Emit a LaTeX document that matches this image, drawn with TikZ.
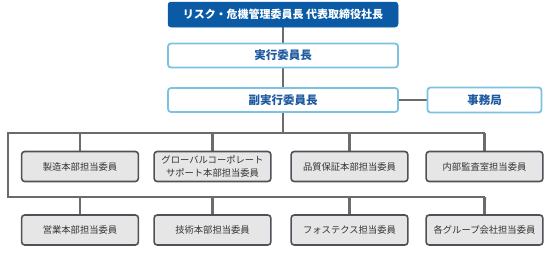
\documentclass[tikz,border=0pt]{standalone}
\usepackage{fontspec}
\setmainfont{Noto Sans CJK JP}
\usetikzlibrary{backgrounds}
\definecolor{topblue}{HTML}{0B5AA6}
\definecolor{lblue}{HTML}{7CC3E2}
\definecolor{tblue}{HTML}{1E5AA0}
\definecolor{boxgray}{HTML}{E6E6E6}
\definecolor{bordgray}{HTML}{4D5258}
\definecolor{linegray}{HTML}{6B6B6B}
\definecolor{txtgray}{HTML}{333333}
\begin{document}
\begin{tikzpicture}[x=1pt,y=-1pt,
  topbox/.style={draw=topblue,fill=topblue,rounded corners=3pt,text=white,font=\fontsize{11}{13}\selectfont\bfseries,line width=0.5pt},
  bluebox/.style={draw=lblue,fill=white,rounded corners=3pt,text=tblue,font=\fontsize{11.5}{13}\selectfont\bfseries,line width=1.8pt},
  graybox/.style={draw=bordgray,fill=boxgray,rounded corners=3pt,text=txtgray,font=\fontsize{9.3}{12.5}\selectfont,line width=1.6pt,align=center},
  conn/.style={draw=linegray,line width=2.2pt}]
\useasboundingbox (0,0) rectangle (554,252);
\coordinate (TL) at (8,133);
\coordinate (TR) at (485,133);
\coordinate (BL) at (8,197);
\coordinate (BR) at (485,197);
\coordinate (J1) at (283,133);
\node[topbox,minimum width=230pt,minimum height=25pt] (top) at (283,14.5) {リスク・危機管理委員長 代表取締役社長};
\node[bluebox,minimum width=230pt,minimum height=24pt] (exec) at (283,55.5) {実行委員長};
\node[bluebox,minimum width=230pt,minimum height=24pt] (vice) at (283,100) {副実行委員長};
\node[bluebox,minimum width=114pt,minimum height=25pt] (jimu) at (484.5,100) {事務局};
\foreach \n/\x/\t in {a1/80/製造本部担当委員, a2/212.5/{グローバルコーポレート\\サポート本部担当委員}, a3/349.5/品質保証本部担当委員, a4/484.5/内部監査室担当委員}{
  \node[graybox,minimum width=113pt,minimum height=30pt,text width=110pt] (\n) at (\x,166.5) {\t};
}
\foreach \n/\x/\t in {b1/80/営業本部担当委員, b2/212.5/技術本部担当委員, b3/349.5/フォステクス担当委員, b4/484.5/各グループ会社担当委員}{
  \node[graybox,minimum width=113pt,minimum height=30pt,text width=110pt] (\n) at (\x,230) {\t};
}
\begin{scope}[on background layer]
  \draw[conn] (top) -- (exec);
  \draw[conn] (exec) -- (vice);
  \draw[conn] (vice) -- (J1);
  \draw[conn] (vice.east) -- (jimu.west);
  \draw[conn,line join=miter] (TR) -- (TL) -- (BL) -- (BR);
  \foreach \n in {a1,a2,a3,a4}{ \draw[conn] (\n.north |- TL) -- (\n.north); }
  \foreach \n in {b1,b2,b3,b4}{ \draw[conn] (\n.north |- BL) -- (\n.north); }
  \draw[conn] (BR) -- (b4.north);
\end{scope}
\end{tikzpicture}
\end{document}
